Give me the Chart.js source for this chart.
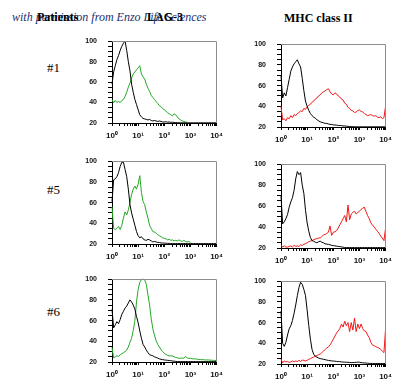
<!DOCTYPE html>
<html><head><meta charset="utf-8">
<script src="https://cdn.jsdelivr.net/npm/chart.js@4"></script>
<style>
html,body{margin:0;padding:0;background:#fff;width:400px;height:388px;overflow:hidden;position:relative;}
.wrap{position:absolute;}
.t{position:absolute;white-space:nowrap;line-height:1;}
</style></head><body>
<div class="t" style="left:12px;top:10px;font:italic 12px 'Liberation Serif';color:#1c2f72">with permission from Enzo Life Sciences</div>
<div class="t" style="left:37px;top:10px;font:bold 12px 'Liberation Serif';color:#000">Patients</div>
<div class="t" style="left:147px;top:10px;font:bold 12px 'Liberation Serif';color:#000">LAG-3</div>
<div class="t" style="left:284px;top:11px;font:bold 12px 'Liberation Serif';color:#000">MHC class II</div>
<div class="t" style="left:47px;top:60px;font:13px 'Liberation Serif';color:#000">#1</div>
<div class="t" style="left:47px;top:182px;font:13px 'Liberation Serif';color:#000">#5</div>
<div class="t" style="left:47px;top:304px;font:13px 'Liberation Serif';color:#000">#6</div>
<script>
// fluorescence channel positions (log scale, 10^0 .. 10^4)
const channels = [1,1.155,1.334,1.54,1.778,2.054,2.371,2.738,3.162,3.652,4.217,4.87,5.623,6.494,7.499,8.66,
 10,11.55,13.34,15.4,17.78,20.54,23.71,27.38,31.62,36.52,42.17,48.7,56.23,64.94,74.99,86.6,
 100,115.5,133.4,154,177.8,205.4,237.1,273.8,316.2,365.2,421.7,487,562.3,649.4,749.9,866,
 1000,1155,1334,1540,1778,2054,2371,2738,3162,3652,4217,4870,5623,6494,7499,8660,
 10000];
const xTickValues = [1,2,3,4,5,6,7,8,9,10,20,30,40,50,60,70,80,90,100,200,300,400,500,600,700,800,900,
 1000,2000,3000,4000,5000,6000,7000,8000,9000,10000];
const supDigits = ['\u2070','\u00b9','\u00b2','\u00b3','\u2074'];
const rowLabels = ['#1','#5','#6'];
const colLabels = ['LAG-3','MHC class II'];

// Patient #1
const p1LagControl = [58,70,76,82,86,91,95,98,100,91, 80,71,58,50,43,38,33,28,26,24.5, 24,23.5,23,23.5,22.5,22,22.5,22,21.5,22,
 21.5,21,21,21.2,20.8,21,20.6,20.8,20.5,20.4, 20.3,20.3,20.2,20.2,20.2,20.2,20.2,20.2,20.2,20.2,
 20.2,20.2,20.2,20.2,20.2,20.2,20.2,20.2,20.2,20.2, 20.2,20.2,20.2,20.2,20.2];
const p1LagStain = [43,40,42,40,41,40,42,43,46,50, 55,59,64,68,70,72,74,76,68,65, 63,58,54,51,47,45,43,41,39,37,
 36,34,33,31.5,30,29,28,27,29,28, 26,24,23,22,21.5,21,20.6,null,null,null,
 null,null,null,null,null,null,null,null,null,null, null,null,null,null,null];
const p1MhcControl = [70,48,53,50,58,66,74,78,81,83, 85,81,78,67,55,45,40,36,33,31, 29.5,28.5,27,26,25,24.5,24,23.5,23.5,23,
 22.5,22.5,22,22,21.8,21.5,21.5,21.3,21,21, 20.8,20.6,20.5,20.4,20.3,20.2,20.2,20.2,20.2,20.2,
 20.2,20.2,20.2,20.2,20.2,20.2,20.2,20.2,20.2,20.2, 20.2,20.2,20.2,20.2,20.2];
const p1MhcStain = [40,27,28,26,29,28,31,29,32,31, 33,34,35.5,35,38,37,39.5,41,42,44, 45,47,48,50,51,53,54,55,56,57,
 54,52,51,53,52,50,49,47,46,43, 42,39,38,36,35.5,34,34.5,36,36.5,35,
 34.5,33,32,31,31.5,32,31,30.5,31,29.5, 29,30,28,29,40];

// Patient #5
const p5LagControl = [61,82,83,85,89,95,99,99,92,85, 73,58,50,44,38,32,28,26,27,25, 24,23.5,24.5,24,23,22,22.5,22,21.5,21.5,
 21,21,20.8,20.8,20.6,20.6,20.4,20.4,20.4,20.4, 20.4,20.4,20.4,20.4,20.4,20.4,20.4,20.4,20.4,20.4,
 20.4,20.4,20.4,20.4,20.4,20.4,20.4,20.4,20.4,20.4, 20.4,20.4,20.4,20.4,20.4];
const p5LagStain = [56,35,34,35,37,34,38,45,51,48, 53,60,68,73,76,73,78,86,70,61, 58,51,45,38,35,32,31.5,30.5,29,28,
 27,26,25.5,25,24,24.5,23.5,24,23,23.5, 23,24,23,22.5,23.5,22.5,22,22.5,21.5,null,
 null,null,null,null,null,null,null,null,null,null, null,null,null,null,null];
const p5MhcControl = [70,43,45,48,52,59,64,68,75,86, 93,90,92,80,72,56,44,36,30,27, 26.5,25.5,25,26,26.5,25.5,25,24,23.7,23.5,
 23,22.5,22.3,22,21.8,21.5,21.4,21,20.8,20.4, 20.4,20.4,20.4,20.4,20.4,20.4,20.4,20.4,20.4,20.4,
 20.4,20.4,20.4,20.4,20.4,20.4,20.4,20.4,20.4,20.4, 20.4,20.4,20.4,20.4,20.4];
const p5MhcStain = [23,21,22,21,20.8,21.5,22,21,22.5,21.5, 22,21.5,23,22.5,23.7,24,25,26,26.6,27, 28,28.5,29,29.5,29.5,31,32.4,33,33.8,35,
 41,32,35,35.5,36.5,39,42,45,48,51, 45,61,47,52.5,54,55,52.5,54,55,56.8,
 58,59,55,51,48,44,42,40,38,36, 34,31.5,29.5,27,39];

// Patient #6
const p6LagControl = [71,53,56,59,57,61,66,69,72,74, 77,80,78,75,71,64,58,50,43,37, 34.5,31.5,29,27,26.5,26,25,24.4,23.8,23,
 22.6,22.3,22,21.8,21.6,21.5,21.2,21,20.8,20.6, 20.4,20.4,20.4,20.4,20.4,20.4,20.4,20.4,20.4,20.4,
 20.4,20.4,20.4,20.4,20.4,20.4,20.4,20.4,20.4,20.4, 20.4,20.4,20.4,20.4,20.4];
const p6LagStain = [34,24,25,26,25.5,27,28,29,30,31.5, 34.5,39,43,50.5,60,78,90,97,99.5,100, 99.5,95,85,75,62,52,46,40.5,37,34.5,
 32,30,28.5,27.3,26.5,25.8,26,25.8,25,24.4, 24,23.8,23.5,24,23.5,25.5,24,23.5,23.5,23.2,
 23,23,22.8,22.5,22.3,22.3,22.2,22,22,22, 21.8,21.7,21.6,21.5,21.5];
const p6MhcControl = [71,40,37,41,48,54,57,62,69,77, 86,94,99,97,92,86,72,57,44,34, 29.5,27.5,26.6,25.8,25.2,24.9,24.6,24.2,23.8,23.5,
 23.2,23,22.9,22.7,22.5,22.3,22.3,22,21.9,21.8, 21.7,21.6,21.5,21.4,21.4,21.5,21.6,21.8,21.7,21.3,
 21.2,21,20.9,20.8,20.6,20.5,20.5,20.5,20.5,20.5, 20.5,20.5,20.5,20.5,20.5];
const p6MhcStain = [25,21,23,22,22.5,21.5,22,23,22,23, 22.3,23.5,22.5,23.8,23.5,22.9,23.5,24.5,25.2,26, 26.7,27.5,28.1,29,29.6,31,32.5,34,35.4,36.5,
 38.3,41,44,47,49.9,52,54.2,58.6,55.7,61.4, 57,60,51.3,60,52.8,64.3,51.3,58.6,54.2,58.6,
 54.2,52,51.3,48,45.5,41,38.3,37.5,36.8,36, 35.4,34,32.5,31,54];

const GREEN = '#22a822', RED = '#f01818';
const panels = [
  {area:[112,32,106,91],  ctrl:p1LagControl, stain:p1LagStain, color:GREEN},
  {area:[281,35,106,92],  ctrl:p1MhcControl, stain:p1MhcStain, color:RED},
  {area:[112,152,106,92], ctrl:p5LagControl, stain:p5LagStain, color:GREEN},
  {area:[281,155,106,93], ctrl:p5MhcControl, stain:p5MhcStain, color:RED},
  {area:[112,270,106,92], ctrl:p6LagControl, stain:p6LagStain, color:GREEN},
  {area:[281,272,106,92], ctrl:p6MhcControl, stain:p6MhcStain, color:RED}
];

const framePlugin = {
  id:'frame',
  afterDatasetsDraw(ch){
    const a = ch.chartArea, ctx = ch.ctx;
    ctx.save();
    ctx.strokeStyle = '#8c8c8c'; ctx.lineWidth = 1;
    ctx.beginPath();
    ctx.moveTo(a.left, Math.round(a.top)+0.5);
    ctx.lineTo(Math.round(a.right)-0.5, Math.round(a.top)+0.5);
    ctx.lineTo(Math.round(a.right)-0.5, a.bottom);
    ctx.stroke();
    ctx.restore();
  }
};

const YW = 30, XH = 20, PT = 6, PR = 10;
const tickFont = {family:"'Liberation Sans', Arial, sans-serif", size:7, weight:'bold'};

function toXY(arr){ return channels.map((x,i)=>({x:x, y:arr[i]})); }

panels.forEach(p=>{
  const w = p.area[2]+YW+PR, h = p.area[3]+PT+XH;
  const div = document.createElement('div');
  div.className = 'wrap';
  div.style.left = (p.area[0]-YW)+'px';
  div.style.top = (p.area[1]-PT)+'px';
  div.style.width = w+'px'; div.style.height = h+'px';
  const c = document.createElement('canvas');
  c.width = w; c.height = h; c.style.width = w+'px'; c.style.height = h+'px';
  div.appendChild(c); document.body.appendChild(div);
  new Chart(c, {
    type:'line',
    data:{datasets:[
      {data:toXY(p.ctrl), borderColor:'#000', borderWidth:1, pointRadius:0, tension:0, clip:3, spanGaps:false},
      {data:toXY(p.stain), borderColor:p.color, borderWidth:1, pointRadius:0, tension:0, clip:3, spanGaps:false}
    ]},
    options:{
      responsive:false, animation:false, events:[],
      layout:{padding:{top:PT, right:PR, left:0, bottom:0}},
      plugins:{legend:{display:false}, tooltip:{enabled:false}},
      scales:{
        x:{type:'logarithmic', min:1, max:10000,
          afterBuildTicks:(s)=>{ s.ticks = xTickValues.map(v=>({value:v})); },
          afterFit:(s)=>{ s.height = XH; },
          grid:{drawOnChartArea:false, drawTicks:true, tickLength:3, tickColor:'#000'},
          border:{display:true, color:'#000', width:1},
          ticks:{autoSkip:false, maxRotation:0, minRotation:0, padding:5, color:'#111',
            font:{family:"'Liberation Sans', Arial, sans-serif", size:8, weight:'bold'},
            callback:(v)=>{ const l = Math.log10(v); const r = Math.round(l);
              return Math.abs(l-r) < 1e-6 ? '10'+supDigits[r] : ''; }}
        },
        y:{type:'linear', min:20, max:100,
          afterFit:(s)=>{ s.width = YW; },
          grid:{drawOnChartArea:false, drawTicks:true, tickLength:4, tickColor:'#000'},
          border:{display:true, color:'#000', width:1},
          ticks:{stepSize:5, autoSkip:false, padding:11, color:'#111', font:tickFont,
            callback:(v)=> (v % 20 === 0 ? String(v) : '')}
        }
      }
    },
    plugins:[framePlugin]
  });
});
</script>
</body></html>
